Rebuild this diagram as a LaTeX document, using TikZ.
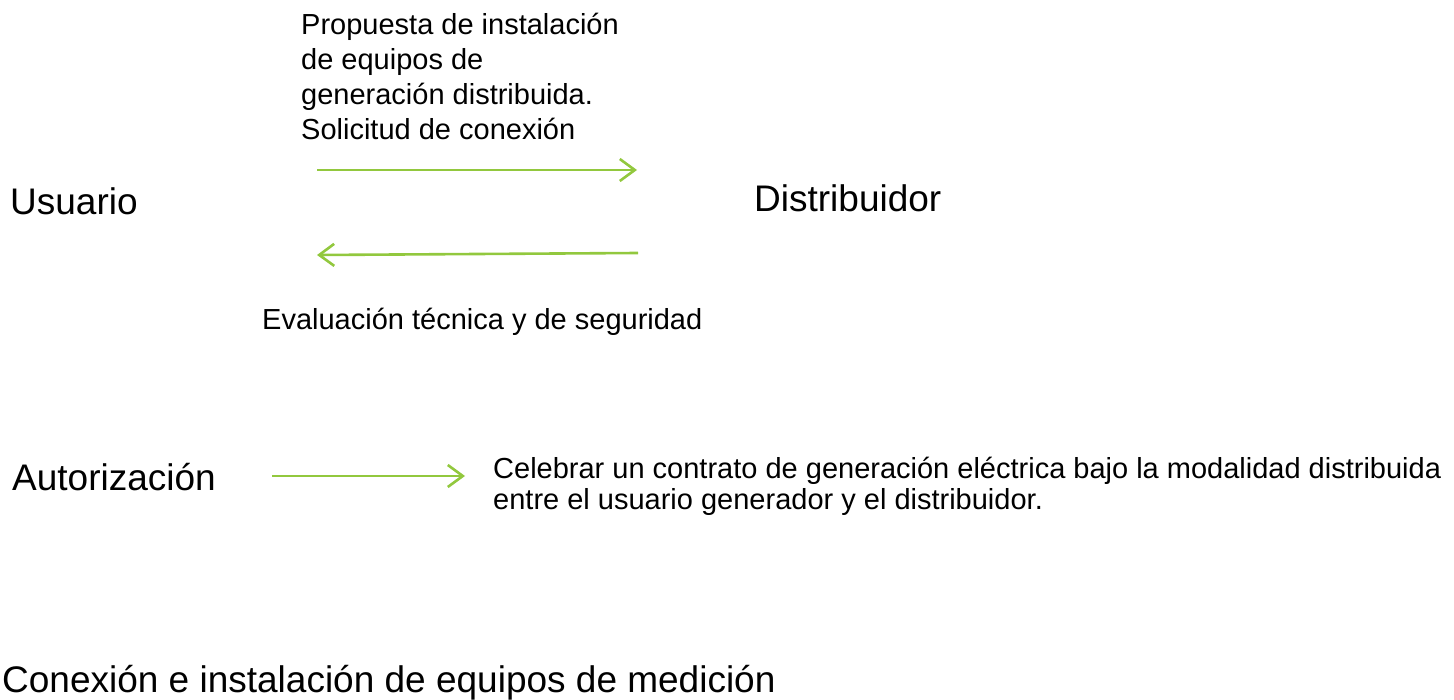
\documentclass[tikz,border=0pt]{standalone}
\usepackage{fontspec}
\setmainfont{Liberation Sans}
\usetikzlibrary{arrows.meta}
\definecolor{lgreen}{HTML}{92C83E}
\begin{document}
\begin{tikzpicture}[x=1pt,y=-1pt,
  big/.style={anchor=base west,inner sep=0pt,font=\fontsize{37}{44}\selectfont},
  small/.style={inner sep=0pt,font=\fontsize{29}{35}\selectfont,align=left},
  flow/.style={draw=lgreen,line width=2.6pt,-{Straight Barb[length=15pt,width=22pt,line width=2.6pt]}}]
\useasboundingbox (0,0) rectangle (1454,700);
\node[small,anchor=north west] (prop) at (301,13) {Propuesta de instalación\\de equipos de\\generación distribuida.\\Solicitud de conexión};
\node[big] (usu) at (10,215) {Usuario};
\node[big] (dis) at (754,212) {Distribuidor};
\coordinate (a1s) at (317,170);
\coordinate (a1e) at (637,170);
\coordinate (a2s) at (638,253);
\coordinate (a2e) at (317,255);
\draw[flow] (a1s) -- (a1e);
\draw[flow] (a2s) -- (a2e);
\node[small,anchor=base west] (eva) at (262,330) {Evaluación técnica y de seguridad};
\node[big] (aut) at (12,490) {Autorización};
\node[small,anchor=north west,font=\fontsize{29}{31}\selectfont] (cel) at (493,457) {Celebrar un contrato de generación eléctrica bajo la modalidad distribuida\\entre el usuario generador y el distribuidor.};
\coordinate (a3s) at (272,476);
\coordinate (a3e) at (465,476);
\draw[flow] (a3s) -- (a3e);
\node[big] (con) at (2,692) {Conexión e instalación de equipos de medición};
\end{tikzpicture}
\end{document}
